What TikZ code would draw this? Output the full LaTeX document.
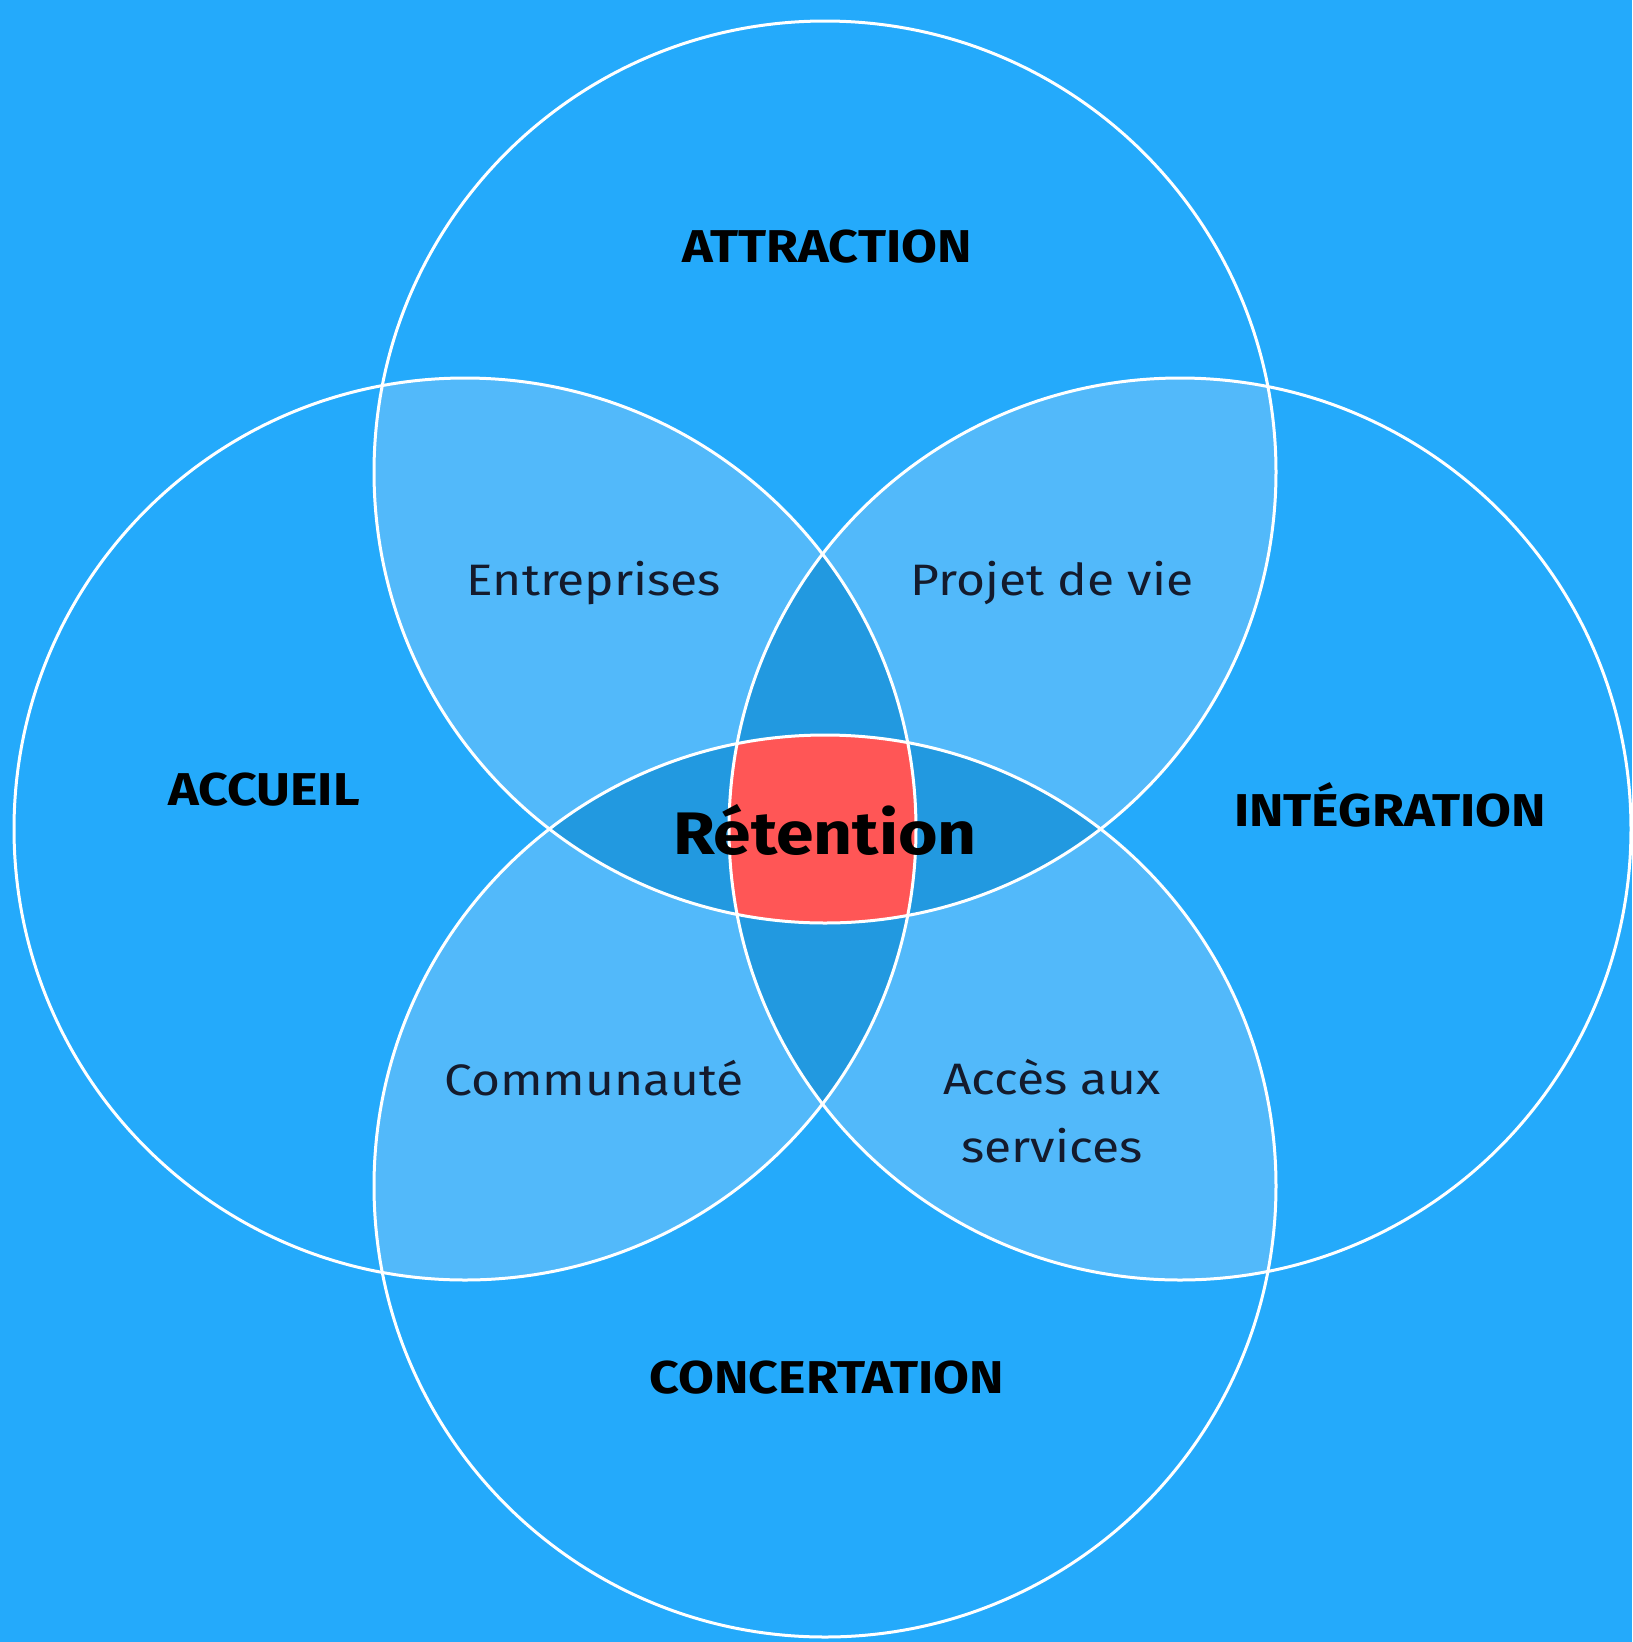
\documentclass[tikz,border=0pt]{standalone}
\usepackage{fontspec}
\setmainfont{Fira Sans}[FakeStretch=1.13]
\definecolor{bg}{HTML}{24AAFB}
\definecolor{lightblue}{HTML}{52B9FA}
\definecolor{darkblue}{HTML}{2299E0}
\definecolor{redc}{HTML}{FF5656}
\definecolor{navy}{HTML}{141B2D}
\tikzset{
  ring/.style={draw=white, line width=3pt},
  title/.style={font=\fontsize{46}{50}\selectfont\bfseries, text=black, inner sep=0pt},
  sub/.style={font=\fontsize{44}{68}\selectfont, text=navy, inner sep=0pt, align=center},
  core/.style={font=\fontsize{60}{66}\selectfont\bfseries, text=black, inner sep=0pt}
}
\begin{document}
\begin{tikzpicture}[x=1pt,y=-1pt]
\fill[bg] (0,0) rectangle (1632,1642);
\coordinate (T) at (825,472);
\coordinate (B) at (825,1186);
\coordinate (L) at (465,829);
\coordinate (R) at (1180,829);
\def\rr{451pt}
% double overlaps
\begin{scope}
  \clip (T) circle[radius=\rr];
  \fill[lightblue] (L) circle[radius=\rr];
  \fill[lightblue] (R) circle[radius=\rr];
\end{scope}
\begin{scope}
  \clip (B) circle[radius=\rr];
  \fill[lightblue] (L) circle[radius=\rr];
  \fill[lightblue] (R) circle[radius=\rr];
\end{scope}
% triple overlaps
\begin{scope}
  \clip (L) circle[radius=\rr];
  \fill[darkblue] (R) circle[radius=\rr];
\end{scope}
\begin{scope}
  \clip (T) circle[radius=\rr];
  \fill[darkblue] (B) circle[radius=\rr];
\end{scope}
% quadruple overlap
\begin{scope}
  \clip (T) circle[radius=\rr];
  \clip (L) circle[radius=\rr];
  \clip (R) circle[radius=\rr];
  \fill[redc] (B) circle[radius=\rr];
\end{scope}
\draw[ring] (T) circle[radius=\rr];
\draw[ring] (B) circle[radius=\rr];
\draw[ring] (L) circle[radius=\rr];
\draw[ring] (R) circle[radius=\rr];
% labels
\node[title] (attraction) at (827,247) {ATTRACTION};
\node[title] (accueil) at (264,790) {ACCUEIL};
\node[title] (integration) at (1390,805) {INTÉGRATION};
\node[title] (concertation) at (827,1378) {CONCERTATION};
\node[core] (retention) at (825,830) {Rétention};
\node[sub] (entreprises) at (594,583) {Entreprises};
\node[sub] (projet) at (1052,583) {Projet de vie};
\node[sub] (communaute) at (594,1078) {Communauté};
\node[sub] (acces) at (1052,1111) {Accès aux\\services};
\end{tikzpicture}
\end{document}
